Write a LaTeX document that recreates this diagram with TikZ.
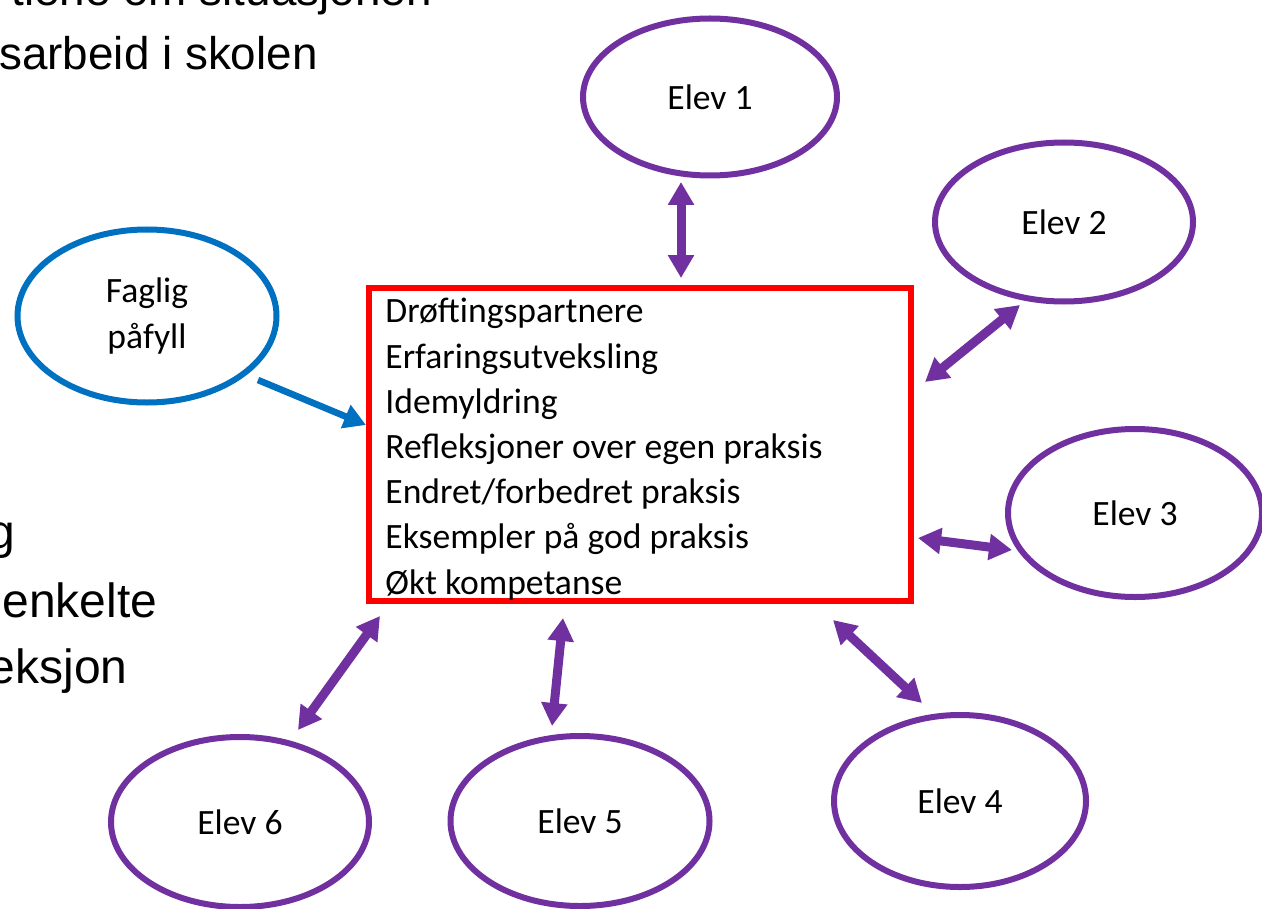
\documentclass[tikz,border=0pt]{standalone}
\usepackage{fontspec}
\setmainfont{Carlito}
\newfontfamily\arialfont{Liberation Sans}
\usetikzlibrary{arrows.meta,shapes.geometric}
\definecolor{elevpurple}{HTML}{7030A0}
\definecolor{fagblue}{HTML}{0070C0}
\definecolor{boxred}{HTML}{FF0000}
\begin{document}
\begin{tikzpicture}[x=0.5pt,y=-0.5pt,
  oval/.style={ellipse, line width=3pt, inner sep=0pt, font=\fontsize{17.8}{23}\selectfont, align=center},
  elev/.style={oval, draw=elevpurple},
  fag/.style={oval, draw=fagblue},
  biarrow/.style={draw=elevpurple, line width=4.5pt, {Triangle[length=11.5pt,width=12.5pt]}-{Triangle[length=11.5pt,width=12.5pt]}},
  fagarrow/.style={draw=fagblue, line width=3.3pt, -{Triangle[length=11pt,width=12pt]}},
  slidetext/.style={font=\arialfont\fontsize{22.9}{26}\selectfont, inner sep=0pt},
  slidetextb/.style={font=\arialfont\fontsize{24}{28}\selectfont, inner sep=0pt}
]
\useasboundingbox[fill=white] (0,0) rectangle (1262,909);

% background slide text (cut off)
\node[slidetext, anchor=base east] (t1) at (432,6) {tiene om situasjonen};
\node[slidetext, anchor=base east] (t2) at (318,70) {sarbeid i skolen};
\node[slidetextb, anchor=base east] (t3) at (16,548) {g};
\node[slidetextb, anchor=base west] (t4) at (2,617) {enkelte};
\node[slidetextb, anchor=base east] (t5) at (128,683) {eksjon};

% central box
\node[draw=boxred, line width=3pt, minimum width=271pt, minimum height=156.5pt, inner sep=0pt] (box) at (640,444.5) {};
\node[anchor=north west, align=left, inner sep=0pt, font=\fontsize{17.8}{22.6}\selectfont] (boxtext) at (385,298) {Drøftingspartnere\\Erfaringsutveksling\\Idemyldring\\Refleksjoner over egen praksis\\Endret/forbedret praksis\\Eksempler på god praksis\\Økt kompetanse};

% ellipses
\node[elev, minimum width=127pt, minimum height=78.5pt] (e1) at (710,97) {Elev 1};
\node[elev, minimum width=129pt, minimum height=79.5pt] (e2) at (1064,222) {Elev 2};
\node[elev, minimum width=127pt, minimum height=84pt] (e3) at (1135,513) {Elev 3};
\node[elev, minimum width=126pt, minimum height=86pt] (e4) at (960,801) {Elev 4};
\node[elev, minimum width=129.5pt, minimum height=85pt] (e5) at (580,821) {Elev 5};
\node[elev, minimum width=129pt, minimum height=85pt] (e6) at (240,822) {Elev 6};
\node[fag, minimum width=129.5pt, minimum height=86.5pt] (fp) at (147,316) {Faglig\\påfyll};

% connector ends
\coordinate (c1a) at (681,182); \coordinate (c1b) at (681,278);
\coordinate (c2a) at (1020,305); \coordinate (c2b) at (925,382);
\coordinate (c3a) at (1012,550); \coordinate (c3b) at (918,538);
\coordinate (c4a) at (833,620); \coordinate (c4b) at (922,703);
\coordinate (c5a) at (563,618); \coordinate (c5b) at (552,726);
\coordinate (c6a) at (380,616); \coordinate (c6b) at (298,730);
\coordinate (cfa) at (258,380); \coordinate (cfb) at (366,425);

\draw[biarrow] (c1a) -- (c1b);
\draw[biarrow] (c2a) -- (c2b);
\draw[biarrow] (c3a) -- (c3b);
\draw[biarrow] (c4a) -- (c4b);
\draw[biarrow] (c5a) -- (c5b);
\draw[biarrow] (c6a) -- (c6b);
\draw[fagarrow] (cfa) -- (cfb);
\end{tikzpicture}
\end{document}
